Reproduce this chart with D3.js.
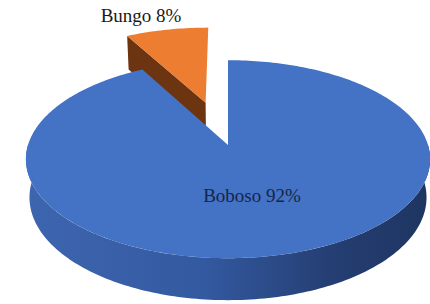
<!DOCTYPE html>
<html>
<head>
<meta charset="utf-8">
<script src="https://cdn.jsdelivr.net/npm/d3@7"></script>
<style>
  body { margin: 0; background: #fff; }
  svg { display: block; }
</style>
</head>
<body>
<div id="chart"></div>
<script>
var svgWidth = 430;
var svgHeight = 304;

// data
var categories = ["Boboso", "Bungo"];
var values = [92, 8];
var explode = [0, 0.48];

var topColors = ["#4472c4", "#ed7d31"];
var cutColors = ["#2f528f", "#6c3410"];

// 3d view params
var elev = 29 * Math.PI / 180;
var dist = 6.1;
var focal = 1220;
var depth = 0.221;
var cx = 228, cy = 145;

var sE = Math.sin(elev), cE = Math.cos(elev);

// project world point (x right, y up, z toward viewer)
function project(p) {
  var vx = p[0], vy = p[1] - dist * sE, vz = p[2] - dist * cE;
  var d = -vy * sE - vz * cE;
  var sx = vx / d * focal;
  var sy = (vy * cE - vz * sE) / d * focal;
  return [cx + sx, cy - sy];
}

// angle a: clockwise from the far side (top of screen)
function rim(a, off, y) {
  return [off[0] + Math.sin(a), y, off[1] - Math.cos(a)];
}

var svg = d3.select("#chart")
  .append("svg")
  .attr("width", svgWidth)
  .attr("height", svgHeight);

var defs = svg.append("defs");
var grad = defs.append("linearGradient")
  .attr("id", "sideGrad")
  .attr("gradientUnits", "userSpaceOnUse")
  .attr("x1", 20).attr("y1", 0).attr("x2", 430).attr("y2", 0);
grad.append("stop").attr("offset", "0%").attr("stop-color", "#3e66b0");
grad.append("stop").attr("offset", "45%").attr("stop-color", "#3359a0");
grad.append("stop").attr("offset", "75%").attr("stop-color", "#253f74");
grad.append("stop").attr("offset", "100%").attr("stop-color", "#1e3560");

var pie = d3.pie().sort(null).value(d => d);
var arcs = pie(values);

var line = d3.line();

function arcPoints(a0, a1, off, y) {
  var n = Math.max(2, Math.ceil(Math.abs(a1 - a0) / 0.02));
  var pts = [];
  for (var i = 0; i <= n; i++) {
    var a = a0 + (a1 - a0) * i / n;
    pts.push(project(rim(a, off, y)));
  }
  return pts;
}

function offsetFor(d, i) {
  var mid = (d.startAngle + d.endAngle) / 2;
  var e = explode[i];
  return [e * Math.sin(mid), -e * Math.cos(mid)];
}

var gSlices = svg.append("g");

// draw back slice (Bungo) first, then Boboso
[1, 0].forEach(function(i) {
  var d = arcs[i];
  var off = offsetFor(d, i);
  var c0 = [off[0], 0, off[1]];
  var c1 = [off[0], -depth, off[1]];

  if (i === 1) {
    // radial cut face at start angle (dark brown, faces the viewer)
    var ps = [project(c0), project(rim(d.startAngle, off, 0)),
      project(rim(d.startAngle, off, -depth)), project(c1)];
    gSlices.append("path")
      .attr("d", line(ps) + "Z")
      .attr("fill", cutColors[1]);
  } else {
    // outer side wall, front part
    var a0 = Math.max(d.startAngle, Math.PI / 2);
    var a1 = Math.min(d.endAngle, 3 * Math.PI / 2);
    var topPts = arcPoints(a0, a1, off, 0);
    var botPts = arcPoints(a1, a0, off, -depth);
    gSlices.append("path")
      .attr("d", line(topPts.concat(botPts)) + "Z")
      .attr("fill", "url(#sideGrad)");
  }

  // top face
  var tp = [project(c0)].concat(arcPoints(d.startAngle, d.endAngle, off, 0));
  gSlices.append("path")
    .attr("d", line(tp) + "Z")
    .attr("fill", topColors[i]);
});

// labels
svg.append("text")
  .attr("x", 141)
  .attr("y", 22)
  .attr("text-anchor", "middle")
  .style("font-family", "'Liberation Serif', 'Times New Roman', serif")
  .style("font-size", "19px")
  .attr("fill", "#1a1a1a")
  .text(categories[1] + " " + values[1] + "%");

svg.append("text")
  .attr("x", 252)
  .attr("y", 202)
  .attr("text-anchor", "middle")
  .style("font-family", "'Liberation Serif', 'Times New Roman', serif")
  .style("font-size", "19px")
  .attr("fill", "#17254a")
  .text(categories[0] + " " + values[0] + "%");
</script>
</body>
</html>
